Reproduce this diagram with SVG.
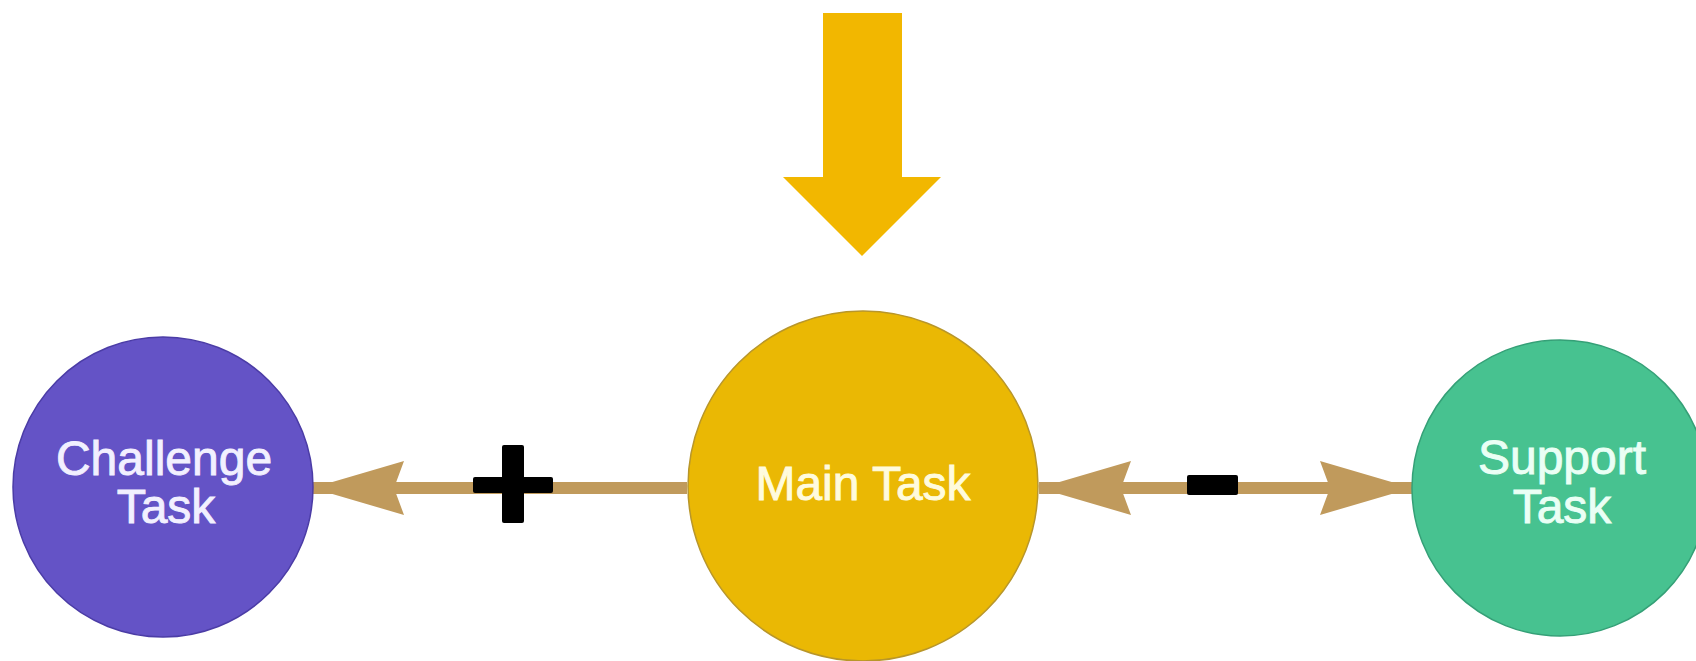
<svg xmlns="http://www.w3.org/2000/svg" width="1696" height="661" viewBox="0 0 1696 661">
  <style>
    .lbl { font-family: "Liberation Sans", Arial, sans-serif; font-size: 48px; text-anchor: middle; stroke-width: 0.9px; }
    .conn { stroke: #C09A5C; stroke-width: 12; fill: none; }
    .sign { fill: #000000; }
  </style>
  <defs>
    <marker id="head" markerUnits="userSpaceOnUse" viewBox="0 -28 93 56" markerWidth="93" markerHeight="56" refX="92" refY="0" orient="auto-start-reverse">
      <path d="M92,0 L0,-27 L10,0 L0,27 Z" fill="#C09A5C"/>
    </marker>
  </defs>
  <rect x="0" y="0" width="1696" height="661" fill="#FFFFFF"/>

  <g id="input-arrow">
    <polygon points="823,13 902,13 902,177 941,177 862,256 783,177 823,177" fill="#F2B700"/>
  </g>

  <g id="connectors">
    <path class="conn" d="M687,488 L312,488" marker-end="url(#head)"/>
    <path class="conn" d="M1039,488 L1412,488" marker-start="url(#head)" marker-end="url(#head)"/>
    <rect class="sign" x="473" y="477" width="80" height="16" rx="2"/>
    <rect class="sign" x="502" y="445" width="22" height="78" rx="2"/>
    <rect class="sign" x="1187" y="475" width="51" height="20" rx="2"/>
  </g>

  <g id="challenge-task">
    <circle cx="163" cy="487" r="150" fill="#6453C6" stroke="#4B3CA6" stroke-width="1.5"/>
    <text class="lbl" x="164" y="475" fill="#F2F0FF" stroke="#F2F0FF">Challenge</text>
    <text class="lbl" x="166" y="523" fill="#F2F0FF" stroke="#F2F0FF">Task</text>
  </g>

  <g id="main-task">
    <circle cx="863" cy="486" r="175" fill="#EAB804" stroke="#B8962A" stroke-width="1.5"/>
    <text class="lbl" x="863" y="500" fill="#FFFBDD" stroke="#FFFBDD">Main Task</text>
  </g>

  <g id="support-task">
    <circle cx="1560" cy="488" r="148" fill="#47C290" stroke="#35A077" stroke-width="1.5"/>
    <text class="lbl" x="1562" y="474" fill="#EAFFF5" stroke="#EAFFF5">Support</text>
    <text class="lbl" x="1562" y="523" fill="#EAFFF5" stroke="#EAFFF5">Task</text>
  </g>
</svg>
